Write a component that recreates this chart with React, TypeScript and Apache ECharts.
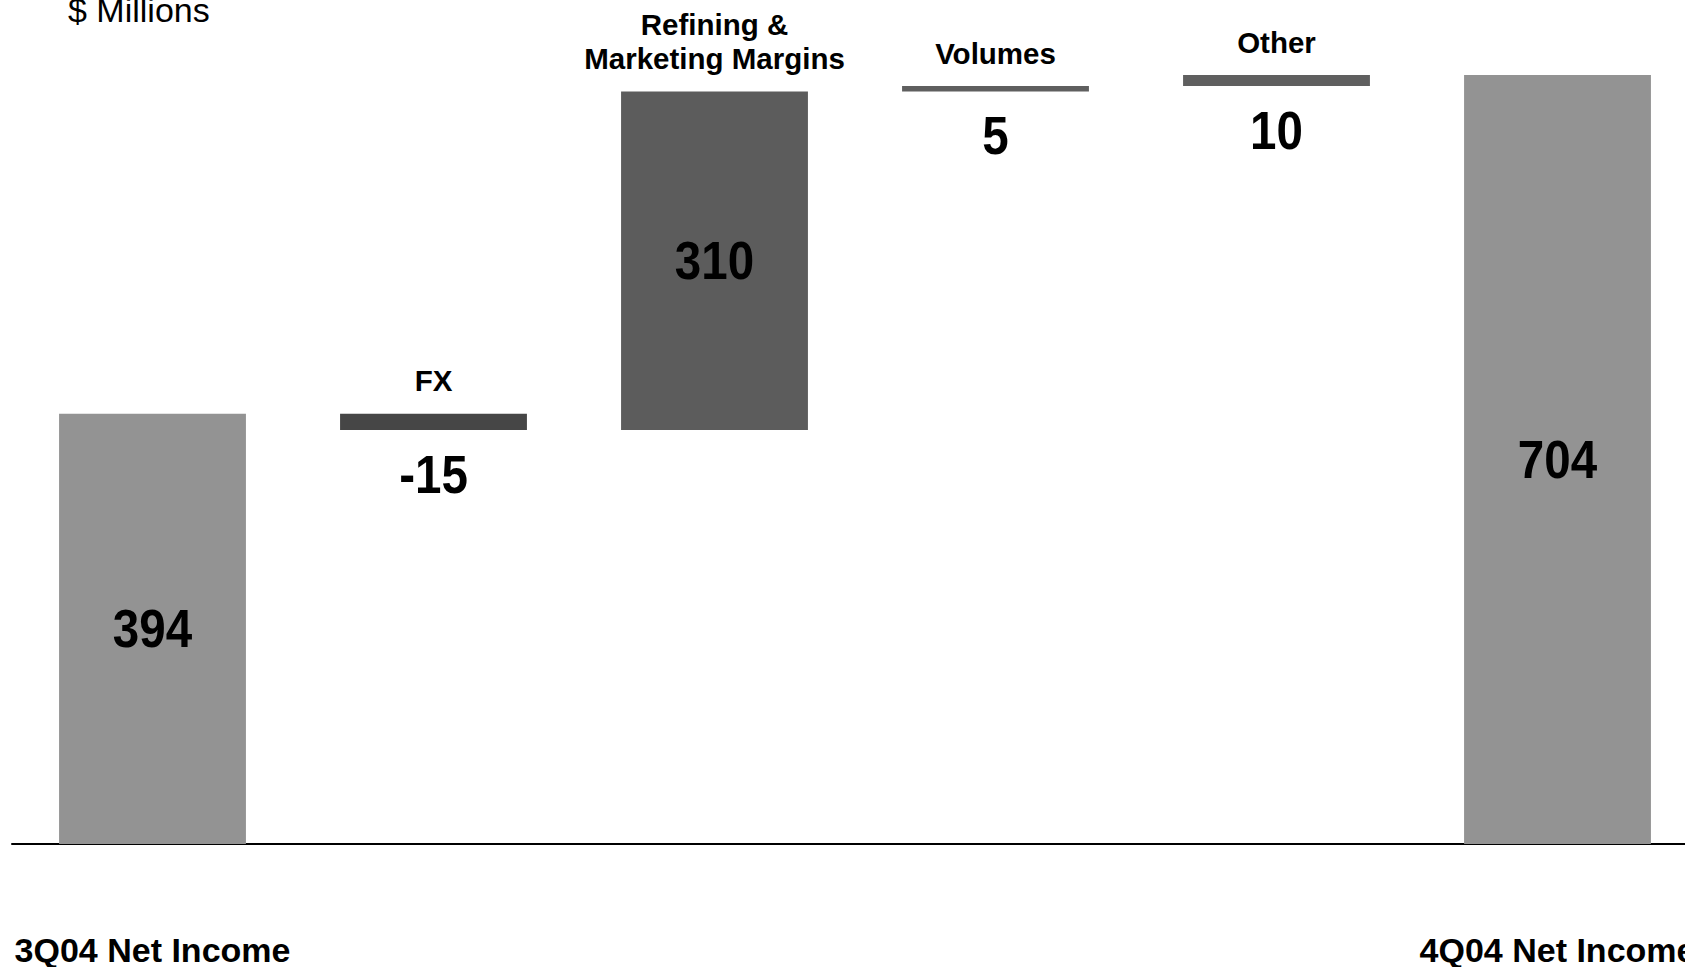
import React, { useEffect, useRef } from "react";
import * as echarts from "echarts";

const categories = [
  "3Q04 Net Income",
  "FX",
  "Refining &\nMarketing Margins",
  "Volumes",
  "Other",
  "4Q04 Net Income",
];
const changes = [394, -15, 310, 5, 10, 704];
const kinds = ["total", "delta", "delta", "delta", "delta", "total"];
const valueLabels = ["394", "-15", "310", "5", "10", "704"];
const barColors = ["#939393", "#464646", "#5c5c5c", "#5f5f5f", "#5f5f5f", "#939393"];
const unitLabel = "$ Millions";

const FONT = "'Liberation Sans', Arial, Helvetica, sans-serif";

function buildData() {
  const out: number[][] = [];
  let running = 0;
  changes.forEach((v, i) => {
    if (kinds[i] === "total") {
      out.push([i, 0, v]);
      running = v;
    } else {
      out.push([i, running, running + v]);
      running += v;
    }
  });
  return out;
}

export default function App() {
  const ref = useRef<HTMLDivElement>(null);
  useEffect(() => {
    if (!ref.current) return;
    const chart = echarts.init(ref.current, undefined, { renderer: "svg" });
    const data = buildData();
    chart.setOption({
      animation: false,
      backgroundColor: "#ffffff",
      grid: { left: 12, right: 12, top: 3, bottom: 108 },
      xAxis: {
        type: "category",
        data: categories,
        axisLine: { lineStyle: { color: "#000", width: 2 } },
        axisTick: { show: false },
        axisLabel: {
          interval: 0,
          margin: 89,
          fontSize: 34,
          fontWeight: "bold",
          color: "#000",
          fontFamily: FONT,
          formatter: (v: string, idx: number) => (kinds[idx] === "total" ? v : ""),
        },
      },
      yAxis: { type: "value", min: 0, max: 770, show: false, splitLine: { show: false } },
      graphic: [
        {
          type: "text",
          left: 68,
          top: -7,
          style: { text: unitLabel, fontSize: 34, fill: "#000", fontFamily: FONT },
        },
      ],
      series: [
        {
          type: "custom",
          clip: false,
          encode: { x: 0, y: [1, 2] },
          data,
          renderItem: (params: any, api: any) => {
            const i = api.value(0);
            const s = api.value(1);
            const e = api.value(2);
            const pTop = api.coord([i, Math.max(s, e)]);
            const pBot = api.coord([i, Math.min(s, e)]);
            const bw = api.size([1, 0])[0] * 0.665;
            const cx = pTop[0];
            const top = pTop[1];
            const bottom = pBot[1];
            const h = bottom - top;
            const big = h > 80;
            const children: any[] = [
              {
                type: "rect",
                shape: { x: cx - bw / 2, y: top, width: bw, height: h },
                style: { fill: barColors[i] },
              },
              {
                type: "text",
                x: cx,
                y: big ? (top + bottom) / 2 : bottom + 44,
                scaleX: 0.88,
                style: {
                  text: valueLabels[i],
                  fill: "#000",
                  fontSize: 54,
                  fontWeight: "bold",
                  fontFamily: FONT,
                  align: "center",
                  verticalAlign: "middle",
                },
              },
            ];
            if (kinds[i] !== "total") {
              children.push({
                type: "text",
                x: cx,
                y: top - 16,
                style: {
                  text: categories[i],
                  fill: "#000",
                  fontSize: 29.5,
                  lineHeight: 34,
                  fontWeight: "bold",
                  fontFamily: FONT,
                  align: "center",
                  verticalAlign: "bottom",
                },
              });
            }
            return { type: "group", children };
          },
        },
      ],
    });
    return () => chart.dispose();
  }, []);
  return (
    <div
      ref={ref}
      style={{ position: "fixed", left: 0, top: 0, width: 1710, height: 967, background: "#fff" }}
    />
  );
}
